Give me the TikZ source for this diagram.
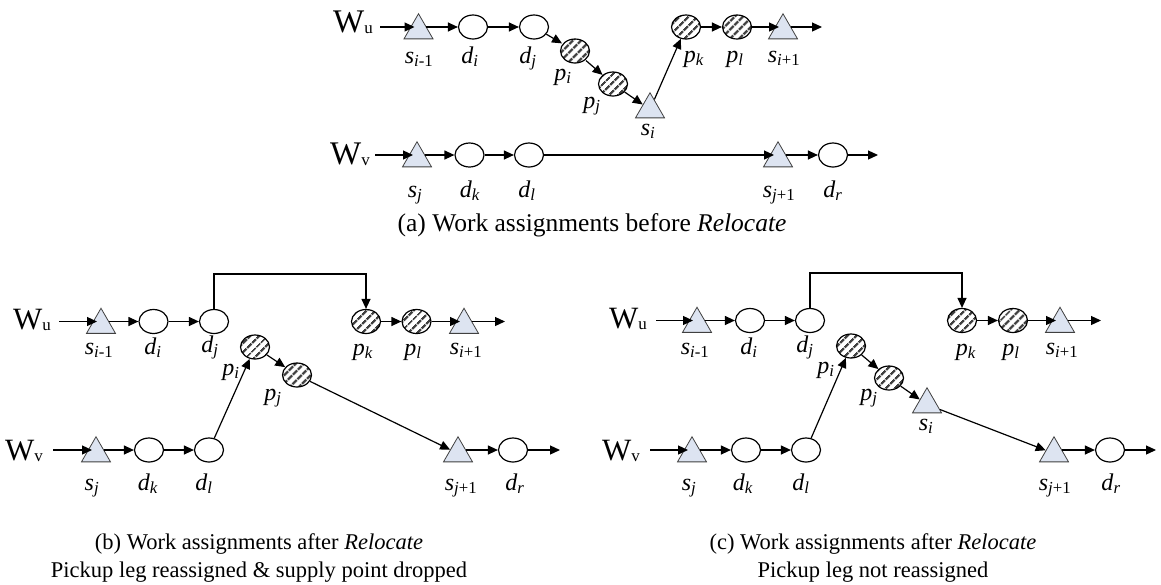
\documentclass[tikz,border=0pt]{standalone}
\usepackage{fontspec}
\setmainfont{Liberation Serif}
\usetikzlibrary{arrows.meta}
\usetikzlibrary{shapes.geometric}
\usetikzlibrary{patterns.meta}
\definecolor{trifill}{RGB}{221,228,241}
\newcommand{\wk}[1]{W\raisebox{-1pt}{\fontsize{17}{17}\selectfont #1}}
\newcommand{\nd}[2]{\textit{#1}\textsubscript{#2}}

\begin{document}
\begin{tikzpicture}[x=1pt, y=-1pt,
    arr/.style={-{Triangle[length=10pt,width=9pt]}, line width=1.2pt},
    into/.style={arr, shorten >=4pt},
    outof/.style={arr, shorten <=7.5pt},
    dnode/.style={ellipse, draw, line width=1.2pt, minimum width=29pt, minimum height=24pt, inner sep=0pt},
    pnode/.style={dnode, pattern={Lines[angle=45,distance=6.5pt,line width=2.6pt]}, pattern color=black!75},
    snode/.style={regular polygon, regular polygon sides=3, minimum size=33.5pt, inner sep=0pt, draw=black!75, line width=0.8pt, fill=trifill, yshift=-3.5pt},
    lbl/.style={font=\fontsize{24}{28}\selectfont, inner sep=0pt, anchor=base},
    wlbl/.style={font=\fontsize{31}{34}\selectfont, inner sep=0pt, anchor=base west},
    captext/.style={font=\fontsize{22.5}{28}\selectfont, inner sep=0pt, anchor=base}]

  \useasboundingbox (0,0) rectangle (1161,584);

  % (a) before Relocate
  \node[wlbl, font=\fontsize{33}{36}\selectfont] (awu) at (333,32) {\wk{u}};
  \coordinate (au0) at (380,27);
  \node[snode] (as1) at (418.5,27) {};
  \node[dnode] (adi) at (473,27) {};
  \node[dnode] (adj) at (534,27) {};
  \node[pnode] (api) at (575,51) {};
  \node[pnode] (apj) at (613,84) {};
  \node[snode] (asi) at (650,106) {};
  \node[pnode] (apk) at (686,27) {};
  \node[pnode] (apl) at (737,27) {};
  \node[snode] (as2) at (783,27) {};
  \coordinate (au9) at (822,27);

  \node[lbl] (as1-l) at (419,63) {\nd{s}{\textit{i}-1}};
  \node[lbl] (adi-l) at (470,63) {\nd{d}{\textit{i}}};
  \node[lbl] (adj-l) at (528,63) {\nd{d}{\textit{j}}};
  \node[lbl] (api-l) at (563,80) {\nd{p}{\textit{i}}};
  \node[lbl] (apj-l) at (592,108) {\nd{p}{\textit{j}}};
  \node[lbl] (asi-l) at (648,135) {\nd{s}{\textit{i}}};
  \node[lbl] (apk-l) at (694,62) {\nd{p}{\textit{k}}};
  \node[lbl] (apl-l) at (735,62) {\nd{p}{\textit{l}}};
  \node[lbl] (as2-l) at (784,62) {\nd{s}{\textit{i}+1}};

  \draw[into] (au0) -- (au0 -| as1);
  \draw[outof] (as1 |- adi) -- (adi);
  \draw[arr] (adi) -- (adj);
  \draw[arr] (adj) -- (api);
  \draw[arr] (api) -- (apj);
  \draw[arr] (apj) -- (asi);
  \draw[arr] (asi) -- (apk);
  \draw[arr] (apk) -- (apl);
  \draw[into] (apl) -- (apl -| as2);
  \draw[outof] (as2 |- au9) -- (au9);

  \node[wlbl, font=\fontsize{33}{36}\selectfont] (awv) at (330,164) {\wk{v}};
  \coordinate (av0) at (375,155);
  \node[snode] (avsj) at (417,155) {};
  \node[dnode] (avdk) at (469.5,155) {};
  \node[dnode] (avdl) at (529,155) {};
  \node[snode] (avs2) at (778,155) {};
  \node[dnode] (avdr) at (833,155) {};
  \coordinate (av9) at (878,155);

  \node[lbl] (avsj-l) at (415,197) {\nd{s}{\textit{j}}};
  \node[lbl] (avdk-l) at (470,197) {\nd{d}{\textit{k}}};
  \node[lbl] (avdl-l) at (527,197) {\nd{d}{\textit{l}}};
  \node[lbl] (avs2-l) at (779,197) {\nd{s}{\textit{j}+1}};
  \node[lbl] (avdr-l) at (833,197) {\nd{d}{\textit{r}}};

  \draw[into] (av0) -- (av0 -| avsj);
  \draw[outof] (avsj |- avdk) -- (avdk);
  \draw[arr] (avdk) -- (avdl);
  \draw[into] (avdl) -- (avdl -| avs2);
  \draw[outof] (avs2 |- avdr) -- (avdr);
  \draw[arr] (avdr) -- (av9);

  \node[captext, font=\fontsize{25.5}{30}\selectfont] (capa) at (592,231) {(a) Work assignments before \textit{Relocate}};

  % (b) pickup leg reassigned
  \node[wlbl] (bwu) at (13,329) {\wk{u}};
  \coordinate (bu0) at (59,321.5);
  \node[snode] (bs1) at (101,321.5) {};
  \node[dnode] (bdi) at (153.5,321.5) {};
  \node[dnode] (bdj) at (214,321.5) {};
  \node[pnode] (bpk) at (366,321.5) {};
  \node[pnode] (bpl) at (416.5,321.5) {};
  \node[snode] (bs2) at (464,321.5) {};
  \coordinate (bu9) at (505,321.5);
  \coordinate (bbrk) at (290,274);
  \node[pnode] (bpi) at (255,347) {};
  \node[pnode] (bpj) at (297,375) {};

  \node[lbl] (bs1-l) at (99,354) {\nd{s}{\textit{i}-1}};
  \node[lbl] (bdi-l) at (153,354) {\nd{d}{\textit{i}}};
  \node[lbl] (bdj-l) at (210,352) {\nd{d}{\textit{j}}};
  \node[lbl] (bpi-l) at (231,375) {\nd{p}{\textit{i}}};
  \node[lbl] (bpj-l) at (273,400) {\nd{p}{\textit{j}}};
  \node[lbl] (bpk-l) at (363,355) {\nd{p}{\textit{k}}};
  \node[lbl] (bpl-l) at (413,355) {\nd{p}{\textit{l}}};
  \node[lbl] (bs2-l) at (466,354) {\nd{s}{\textit{i}+1}};

  \draw[into] (bu0) -- (bu0 -| bs1);
  \draw[outof] (bs1 |- bdi) -- (bdi);
  \draw[arr] (bdi) -- (bdj);
  \draw[arr] (bdj.north) |- (bbrk) -| (bpk.north);
  \draw[arr] (bpk) -- (bpl);
  \draw[into] (bpl) -- (bpl -| bs2);
  \draw[outof] (bs2 |- bu9) -- (bu9);

  \node[wlbl] (bwv) at (5,460) {\wk{v}};
  \coordinate (bv0) at (53,450);
  \node[snode] (bvsj) at (96,450) {};
  \node[dnode] (bvdk) at (149,450) {};
  \node[dnode] (bvdl) at (209,450) {};
  \node[snode] (bvs2) at (458,450) {};
  \node[dnode] (bvdr) at (513,450) {};
  \coordinate (bv9) at (560,450);

  \node[lbl] (bvsj-l) at (92,490) {\nd{s}{\textit{j}}};
  \node[lbl] (bvdk-l) at (148,490) {\nd{d}{\textit{k}}};
  \node[lbl] (bvdl-l) at (204,490) {\nd{d}{\textit{l}}};
  \node[lbl] (bvs2-l) at (461,490) {\nd{s}{\textit{j}+1}};
  \node[lbl] (bvdr-l) at (515,490) {\nd{d}{\textit{r}}};

  \draw[into] (bv0) -- (bv0 -| bvsj);
  \draw[outof] (bvsj |- bvdk) -- (bvdk);
  \draw[arr] (bvdk) -- (bvdl);
  \draw[arr] (bvdl) -- (bpi);
  \draw[arr] (bpi) -- (bpj);
  \draw[arr] (bpj) -- (bvs2);
  \draw[outof] (bvs2 |- bvdr) -- (bvdr);
  \draw[arr] (bvdr) -- (bv9);

  \node[captext] (capb1) at (259,549) {(b) Work assignments after \textit{Relocate}};
  \node[captext] (capb2) at (259,577) {Pickup leg reassigned \& supply point dropped};

  % (c) pickup leg kept
  \node[wlbl] (cwu) at (609,328) {\wk{u}};
  \coordinate (cu0) at (656,320.5);
  \node[snode] (cs1) at (697,320.5) {};
  \node[dnode] (cdi) at (750,320.5) {};
  \node[dnode] (cdj) at (810,320.5) {};
  \node[pnode] (cpk) at (962,320.5) {};
  \node[pnode] (cpl) at (1013,320.5) {};
  \node[snode] (cs2) at (1060,320.5) {};
  \coordinate (cu9) at (1101,320.5);
  \coordinate (cbrk) at (885,273);
  \node[pnode] (cpi) at (851,346) {};
  \node[pnode] (cpj) at (889,378) {};
  \node[snode] (csi) at (927,401) {};

  \node[lbl] (cs1-l) at (695,354) {\nd{s}{\textit{i}-1}};
  \node[lbl] (cdi-l) at (749,354) {\nd{d}{\textit{i}}};
  \node[lbl] (cdj-l) at (805,352) {\nd{d}{\textit{j}}};
  \node[lbl] (cpi-l) at (826,373) {\nd{p}{\textit{i}}};
  \node[lbl] (cpj-l) at (869,400) {\nd{p}{\textit{j}}};
  \node[lbl] (csi-l) at (926,430) {\nd{s}{\textit{i}}};
  \node[lbl] (cpk-l) at (966,355) {\nd{p}{\textit{k}}};
  \node[lbl] (cpl-l) at (1011,355) {\nd{p}{\textit{l}}};
  \node[lbl] (cs2-l) at (1062,354) {\nd{s}{\textit{i}+1}};

  \draw[into] (cu0) -- (cu0 -| cs1);
  \draw[outof] (cs1 |- cdi) -- (cdi);
  \draw[arr] (cdi) -- (cdj);
  \draw[arr] (cdj.north) |- (cbrk) -| (cpk.north);
  \draw[arr] (cpk) -- (cpl);
  \draw[into] (cpl) -- (cpl -| cs2);
  \draw[outof] (cs2 |- cu9) -- (cu9);

  \node[wlbl] (cwv) at (602,460) {\wk{v}};
  \coordinate (cv0) at (650,450);
  \node[snode] (cvsj) at (692,450) {};
  \node[dnode] (cvdk) at (746,450) {};
  \node[dnode] (cvdl) at (806,450) {};
  \node[snode] (cvs2) at (1054,450) {};
  \node[dnode] (cvdr) at (1110,450) {};
  \coordinate (cv9) at (1156,450);

  \node[lbl] (cvsj-l) at (689,490) {\nd{s}{\textit{j}}};
  \node[lbl] (cvdk-l) at (743,490) {\nd{d}{\textit{k}}};
  \node[lbl] (cvdl-l) at (801,490) {\nd{d}{\textit{l}}};
  \node[lbl] (cvs2-l) at (1055,490) {\nd{s}{\textit{j}+1}};
  \node[lbl] (cvdr-l) at (1111,490) {\nd{d}{\textit{r}}};

  \draw[into] (cv0) -- (cv0 -| cvsj);
  \draw[outof] (cvsj |- cvdk) -- (cvdk);
  \draw[arr] (cvdk) -- (cvdl);
  \draw[arr] (cvdl) -- (cpi);
  \draw[arr] (cpi) -- (cpj);
  \draw[arr] (cpj) -- (csi);
  \draw[arr] (csi) -- (cvs2);
  \draw[outof] (cvs2 |- cvdr) -- (cvdr);
  \draw[arr] (cvdr) -- (cv9);

  \node[captext] (capc1) at (873,549) {(c) Work assignments after \textit{Relocate}};
  \node[captext] (capc2) at (873,577) {Pickup leg not reassigned};

\end{tikzpicture}
\end{document}
